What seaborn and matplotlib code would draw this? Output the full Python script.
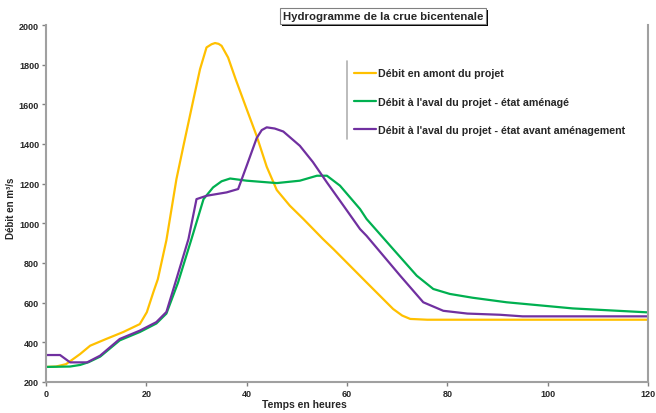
import matplotlib
matplotlib.use("Agg")
import matplotlib.pyplot as plt
import matplotlib.patheffects as pe
from matplotlib.lines import Line2D
import seaborn as sns
import pandas as pd

# ---- data ----
t_amont = [0, 2, 4, 6.8, 8.8, 12, 15.4, 18.7, 20.1, 21.4, 22.3, 24, 26, 27.4, 29.4,
           30.7, 32, 33, 33.7, 34.4, 35, 36.3, 37.8, 40, 42, 44, 46, 48.6, 51.3, 55.2, 57.3,
           63.9, 69.2, 71, 72.6, 76, 120]
q_amont = [276, 278, 290, 341, 383, 417, 452, 492, 552, 653, 719, 915, 1223, 1391, 1626,
           1777, 1887, 1903, 1909, 1905, 1895, 1836, 1727, 1576, 1440, 1285, 1168, 1089, 1022,
           921, 870, 702, 568, 535, 518, 514, 514]

t_amenage = [0, 4.8, 6.8, 8.5, 10.8, 14.7, 18.7, 22, 24, 26.3, 29, 31.4, 33.3, 35, 36.7, 40,
             46, 50.6, 54, 56, 58.6, 62.6, 63.9, 69.2, 73.9, 77.2, 80.5, 85, 91.8, 105, 120]
q_amenage = [276, 278, 286, 300, 328, 410, 452, 495, 545, 700, 921, 1122, 1181, 1212, 1226,
             1215, 1203, 1215, 1240, 1240, 1190, 1072, 1022, 870, 736, 669, 644, 625, 602,
             571, 551]

t_avant = [0, 2.8, 4.8, 8.2, 10.8, 14.7, 18.7, 22, 24, 26, 28.4, 30, 32, 36, 38.3, 40, 42,
           43, 44, 45.6, 47.3, 50.6, 53.2, 56, 59.3, 62.6, 63.9, 70.6, 75.2, 79.2, 84, 90.5,
           95, 120]
q_avant = [336, 336, 299, 299, 333, 417, 459, 502, 553, 719, 921, 1122, 1139, 1156, 1173,
           1290, 1430, 1470, 1484, 1478, 1463, 1391, 1309, 1206, 1089, 971, 937, 736, 602,
           559, 545, 539, 531, 531]

series_names = ["Débit en amont du projet",
                "Débit à l'aval du projet - état aménagé",
                "Débit à l'aval du projet - état avant aménagement"]
series_colors = ["#FFC000", "#00B050", "#7030A0"]

x_ticks = [0, 20, 40, 60, 80, 100, 120]
y_ticks = [200, 400, 600, 800, 1000, 1200, 1400, 1600, 1800, 2000]

title = "Hydrogramme de la crue bicentenale"
xlabel = "Temps en heures"
ylabel = "Débit en m³/s"

# ---- build long-form table ----
frames = []
for name, t, q in zip(series_names, [t_amont, t_amenage, t_avant],
                      [q_amont, q_amenage, q_avant]):
    frames.append(pd.DataFrame({"t": t, "q": q, "serie": name}))
df = pd.concat(frames, ignore_index=True)

sns.set_style("white")
plt.rcParams["font.family"] = ["Liberation Sans", "DejaVu Sans"]

fig = plt.figure(figsize=(6.56, 4.14), dpi=100)
ax = fig.add_axes([46 / 656, 1 - 383 / 414, 602 / 656, 357 / 414])

sns.lineplot(data=df, x="t", y="q", hue="serie", hue_order=series_names,
             palette=dict(zip(series_names, series_colors)), linewidth=1.6,
             ax=ax, legend=False, sort=False, estimator=None)

ax.set_xlim(0, 120)
ax.set_ylim(200, 2000)
ax.set_xticks(x_ticks)
ax.set_yticks(y_ticks)
ax.set_xticklabels([str(v) for v in x_ticks], fontsize=6.5, fontweight="bold")
ax.set_yticklabels([str(v) for v in y_ticks], fontsize=6.5, fontweight="bold")
ax.tick_params(axis="both", direction="out", length=3, width=1, color="#808080",
               pad=2, left=True, bottom=True)

for side in ["left", "bottom", "right"]:
    ax.spines[side].set_visible(True)
    ax.spines[side].set_color("#a0a0a0")
    ax.spines[side].set_linewidth(1.5)
ax.spines["top"].set_visible(False)

ax.set_xlabel(xlabel, fontsize=7.5, fontweight="bold")
ax.xaxis.set_label_coords(0.43, -0.048)
ax.set_ylabel(ylabel, fontsize=7, fontweight="bold")
ax.yaxis.set_label_coords(-0.05, 0.49)

# legend
handles = [Line2D([0], [0], color=c, lw=1.6) for c in series_colors]
leg = fig.legend(handles, series_names, loc="upper left",
                 bbox_to_anchor=(350 / 656, 1 - 65 / 414),
                 prop={"size": 7.7, "weight": "bold"}, frameon=True,
                 labelspacing=1.72, handlelength=2.0, handletextpad=0.2,
                 borderpad=0.4, borderaxespad=0)
leg.get_frame().set_facecolor("white")
leg.get_frame().set_edgecolor("none")
fig.add_artist(Line2D([347 / 656, 347 / 656], [1 - 62 / 414, 1 - 140 / 414],
                      transform=fig.transFigure, color="#b0b0b0", lw=1.2))

# title box with shadow
txt = fig.text(383 / 656, 1 - 17 / 414, title, ha="center", va="center",
               fontsize=8.2, fontweight="bold",
               bbox=dict(boxstyle="square,pad=0.25", facecolor="white",
                         edgecolor="#808080", linewidth=0.8))
txt.get_bbox_patch().set_path_effects(
    [pe.SimplePatchShadow(offset=(1.5, -1.5), shadow_rgbFace="black", alpha=1.0),
     pe.Normal()])

fig.savefig("out.png", dpi=100)
